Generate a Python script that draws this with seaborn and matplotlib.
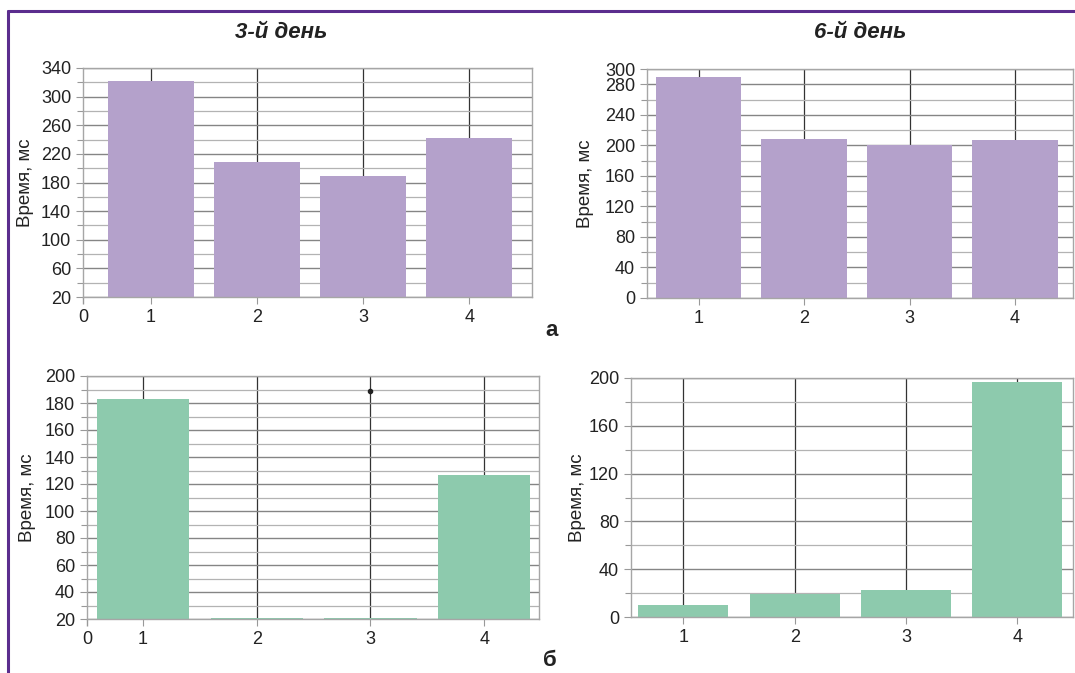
import seaborn as sns
import matplotlib.pyplot as plt
from matplotlib.lines import Line2D

# Данные (мс)
groups = ["1", "2", "3", "4"]
day3_a = [322, 208, 189, 242]
day6_a = [289, 208, 200, 207]
day3_b = [183, 21, 21, 127]
day6_b = [10, 19, 23, 197]
day3_b_dot = 189  # точка над группой 3 (панель б, 3-й день)

purple = "#b4a1cb"
green = "#8dcaad"

sns.set_theme(style="whitegrid")
plt.rcParams["font.family"] = ["Liberation Sans", "DejaVu Sans"]

W, H = 1075, 673
fig = plt.figure(figsize=(W / 100, H / 100), dpi=100)


def box(l, t, r, b):
    return [l / W, 1 - b / H, (r - l) / W, (b - t) / H]


def panel(rect, values, color, ylim, major, minor, xlim, zero_label, ylabel_x):
    ax = fig.add_axes(rect)
    sns.barplot(x=groups, y=values, color=color, width=0.81, saturation=1,
                linewidth=0, ax=ax)
    ax.set_xlim(*xlim)
    ax.set_ylim(*ylim)
    ax.set_yticks(major)
    ax.set_yticks(minor, minor=True)
    ax.set_xlabel("")
    ax.set_ylabel("")
    ax.set_axisbelow(True)

    ax.grid(False)
    ax.xaxis.grid(True, color="#333333", lw=0.9)
    ax.yaxis.grid(True, which="major", color="#858585", lw=1.0)
    ax.yaxis.grid(True, which="minor", color="#b3b3b3", lw=0.9)

    ax.tick_params(axis="both", which="major", labelsize=13, colors="#222222",
                   left=True, bottom=True, length=5, width=0.8)
    ax.tick_params(axis="y", which="minor", left=True, length=4, width=0.8,
                   color="#999999")
    ax.tick_params(axis="both", which="major", color="#999999")

    if zero_label:
        ax.set_xticks([xlim[0]], minor=True)
        ax.set_xticklabels(["0"], minor=True)
        ax.tick_params(axis="x", which="minor", bottom=True, length=5,
                       labelsize=13, color="#999999", labelcolor="#222222")

    for s in ax.spines.values():
        s.set_visible(True)
        s.set_color("#a6a6a6")
        s.set_linewidth(1.0)

    yc = rect[1] + rect[3] / 2
    fig.text(ylabel_x / W, yc, "Время, мс", rotation=90,
             ha="center", va="center", fontsize=13.5, color="#222222")
    return ax


# а: 3-й день
panel(box(83, 68, 532, 297), day3_a, purple, (20, 340),
      list(range(20, 341, 40)), list(range(20, 341, 20)),
      (-0.64, 3.59), True, 25)
# а: 6-й день
panel(box(647, 69, 1073, 298), day6_a, purple, (0, 300),
      list(range(0, 281, 40)) + [300], list(range(0, 301, 20)),
      (-0.49, 3.55), False, 586)
# б: 3-й день
ax_b3 = panel(box(87, 376, 539, 619), day3_b, green, (20, 200),
              list(range(20, 201, 20)), list(range(20, 201, 10)),
              (-0.49, 3.48), True, 28)
ax_b3.plot(groups.index("3"), day3_b_dot, "o", ms=3, color="#222222", zorder=3)
# б: 6-й день
panel(box(631, 378, 1073, 617), day6_b, green, (0, 200),
      list(range(0, 201, 40)), list(range(0, 201, 20)),
      (-0.47, 3.5), False, 577)

# Заголовки
fig.text(281 / W, 1 - 32 / H, "3-й день", ha="center", va="center",
         fontsize=16, fontweight="bold", fontstyle="italic", color="#222222")
fig.text(860 / W, 1 - 32 / H, "6-й день", ha="center", va="center",
         fontsize=16, fontweight="bold", fontstyle="italic", color="#222222")
fig.text(552 / W, 1 - 331 / H, "а", ha="center", va="center",
         fontsize=16, fontweight="bold", color="#222222")
fig.text(550 / W, 1 - 660 / H, "б", ha="center", va="center",
         fontsize=16, fontweight="bold", color="#222222")

# Рамка
frame = "#5b2d8e"
fig.add_artist(Line2D([8 / W, 1], [1 - 10.5 / H, 1 - 10.5 / H],
                      transform=fig.transFigure, color=frame, lw=2.2))
fig.add_artist(Line2D([8 / W, 8 / W], [0, 1 - 10.5 / H],
                      transform=fig.transFigure, color=frame, lw=2.2))

fig.savefig("out.png", dpi=100)
